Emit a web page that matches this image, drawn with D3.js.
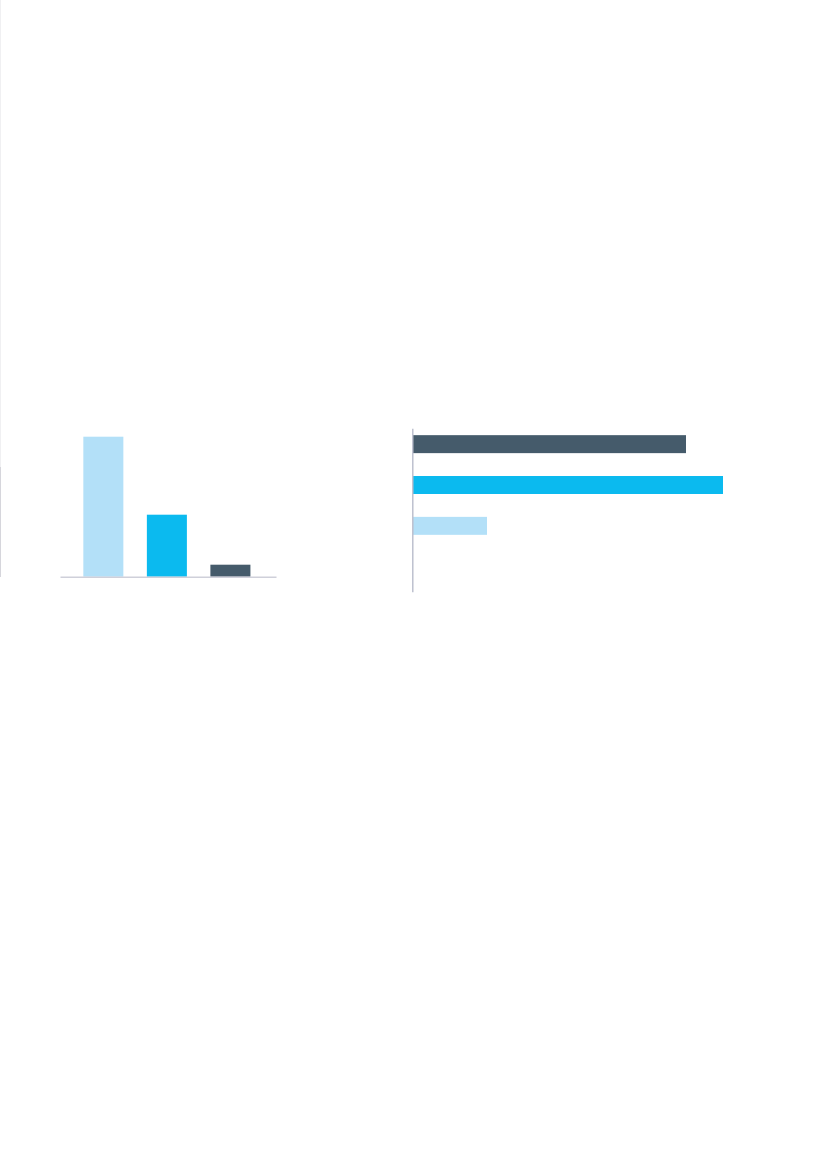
<!DOCTYPE html>
<html>
<head>
<meta charset="utf-8">
<script src="https://cdn.jsdelivr.net/npm/d3@7"></script>
<style>
  html, body { margin: 0; padding: 0; background: #ffffff; }
  svg { display: block; }
</style>
</head>
<body>
<div id="chart"></div>
<script>
// ---- data ----
const columnCategories = ["A", "B", "C"];
const columnValues = [140, 62, 12];
const columnColors = ["#b3e0f8", "#0bbaef", "#455b6b"];

const barCategories = ["C", "B", "A", "D"];
const barValues = [273, 310, 74, 0];
const barColors = ["#455b6b", "#0bbaef", "#b3e0f8", "#ffffff"];

// ---- canvas ----
const W = 827, H = 1169;
const svg = d3.select("#chart").append("svg").attr("width", W).attr("height", H);

// faint page edge line
svg.append("line").attr("x1", 0.5).attr("x2", 0.5).attr("y1", 0).attr("y2", 467)
  .attr("stroke", "#f0f0f2").attr("stroke-width", 1);
svg.append("line").attr("x1", 0.5).attr("x2", 0.5).attr("y1", 467).attr("y2", 577)
  .attr("stroke", "#d6d6dc").attr("stroke-width", 1);

// ---- left: column chart ----
const xBand = d3.scaleBand().domain(columnCategories).range([60, 276])
  .paddingInner(0.37).paddingOuter(0.385).align(0.477);
const yLin = d3.scaleLinear().domain([0, 140]).range([576.7, 436.7]);

svg.append("g").selectAll("rect").data(columnValues).join("rect")
  .attr("x", (d, i) => xBand(columnCategories[i]))
  .attr("width", xBand.bandwidth())
  .attr("y", d => yLin(d))
  .attr("height", d => yLin(0) - yLin(d))
  .attr("fill", (d, i) => columnColors[i]);

const xAxisG = svg.append("g").attr("transform", `translate(0,${yLin(0)})`)
  .call(d3.axisBottom(xBand).tickSize(0).tickFormat(""));
xAxisG.select(".domain").attr("stroke", "#cfd0da").attr("stroke-width", 1.5);

// ---- right: horizontal bar chart ----
const yBand = d3.scaleBand().domain(barCategories).range([428.3, 591.7])
  .paddingInner(0.56).paddingOuter(0.28).align(0.3);
const xLin = d3.scaleLinear().domain([0, 310]).range([413, 723]);

svg.append("g").selectAll("rect").data(barValues).join("rect")
  .attr("x", xLin(0))
  .attr("y", (d, i) => yBand(barCategories[i]))
  .attr("height", yBand.bandwidth())
  .attr("width", d => xLin(d) - xLin(0))
  .attr("fill", (d, i) => barColors[i]);

const yAxisG = svg.append("g").attr("transform", `translate(412.3,0)`)
  .call(d3.axisLeft(yBand).tickSize(0).tickFormat(""));
yAxisG.select(".domain").attr("stroke", "#b9bccb").attr("stroke-width", 1.4);
</script>
</body>
</html>
